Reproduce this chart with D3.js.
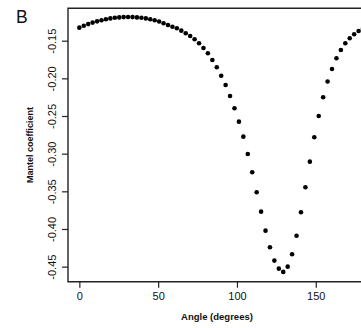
<!DOCTYPE html>
<html>
<head>
<meta charset="utf-8">
<script src="https://cdn.jsdelivr.net/npm/d3@7"></script>
<style>
  html, body { margin: 0; padding: 0; background: #fff; }
  svg { display: block; }
</style>
</head>
<body>
<div id="chart"></div>
<script>
// angles (degrees) sampled over 0..180
const angles = [
  0, 2.8125, 5.625, 8.4375, 11.25, 14.0625, 16.875, 19.6875, 22.5, 25.3125,
  28.125, 30.9375, 33.75, 36.5625, 39.375, 42.1875, 45, 47.8125, 50.625, 53.4375,
  56.25, 59.0625, 61.875, 64.6875, 67.5, 70.3125, 73.125, 75.9375, 78.75, 81.5625,
  84.375, 87.1875, 90, 92.8125, 95.625, 98.4375, 101.25, 104.0625, 106.875, 109.6875,
  112.5, 115.3125, 118.125, 120.9375, 123.75, 126.5625, 129.375, 132.1875, 135, 137.8125,
  140.625, 143.4375, 146.25, 149.0625, 151.875, 154.6875, 157.5, 160.3125, 163.125, 165.9375,
  168.75, 171.5625, 174.375, 177.1875, 180
];

// Mantel coefficient
const mantel = [
  -0.1327, -0.1302, -0.1280, -0.1260, -0.1243, -0.1228, -0.1215, -0.1204, -0.1196, -0.1191,
  -0.1187, -0.1185, -0.1187, -0.1191, -0.1196, -0.1204, -0.1215, -0.1228, -0.1245, -0.1269,
  -0.1292, -0.1314, -0.1335, -0.1367, -0.1402, -0.1438, -0.1481, -0.1535, -0.1597, -0.1667,
  -0.1756, -0.1853, -0.1965, -0.2088, -0.2234, -0.2397, -0.2575, -0.2774, -0.3004, -0.3247,
  -0.3512, -0.3770, -0.4022, -0.4243, -0.4420, -0.4527, -0.4570, -0.4500, -0.4336, -0.4089,
  -0.3778, -0.3446, -0.3106, -0.2782, -0.2500, -0.2251, -0.2042, -0.1876, -0.1734, -0.1623,
  -0.1535, -0.1467, -0.1414, -0.1371, -0.1338
];

const xTicks = [0, 50, 100, 150];
const yTicks = [-0.45, -0.40, -0.35, -0.30, -0.25, -0.20, -0.15];

const width = 361, height = 328;
const plotLeft = 68, plotRight = 372.5, plotTop = 8.3, plotBottom = 281.7;

const svg = d3.select('#chart').append('svg')
  .attr('width', width)
  .attr('height', height);

const x = d3.scaleLinear().domain([-7.2, 186]).range([plotLeft, plotRight]);
const y = d3.scaleLinear().domain([-0.47, -0.107]).range([plotBottom, plotTop]);

const font = '"Liberation Sans", Arial, sans-serif';
const axisColor = '#222';

// frame: left, top, bottom (right side falls off the canvas)
svg.append('path')
  .attr('d', `M${plotRight},${plotTop}H${plotLeft}V${plotBottom}H${plotRight}`)
  .attr('fill', 'none')
  .attr('stroke', axisColor)
  .attr('stroke-width', 1.4);

// x axis
const gx = svg.append('g')
  .attr('transform', `translate(0,${plotBottom})`)
  .call(d3.axisBottom(x).tickValues(xTicks).tickSize(6).tickSizeOuter(0).tickFormat(d => d));
gx.select('.domain').remove();
gx.selectAll('.tick line').attr('stroke', axisColor).attr('stroke-width', 1.2);
gx.selectAll('.tick text')
  .attr('font-family', font)
  .attr('font-size', '11px')
  .attr('fill', '#111')
  .attr('y', 11)
  .attr('dy', '0.71em');

// y axis with rotated labels
const gy = svg.append('g')
  .attr('transform', `translate(${plotLeft},0)`)
  .call(d3.axisLeft(y).tickValues(yTicks).tickSize(6).tickSizeOuter(0).tickFormat(d => d.toFixed(2)));
gy.select('.domain').remove();
gy.selectAll('.tick line').attr('stroke', axisColor).attr('stroke-width', 1.2);
gy.selectAll('.tick text')
  .attr('font-family', font)
  .attr('font-size', '11px')
  .attr('fill', '#111')
  .attr('x', null)
  .attr('dy', null)
  .attr('text-anchor', 'middle')
  .attr('transform', 'translate(-12,0) rotate(-90)');

// points
svg.append('g')
  .selectAll('circle')
  .data(angles.map((a, i) => ({ a, v: mantel[i] })))
  .join('circle')
  .attr('cx', d => x(d.a))
  .attr('cy', d => y(d.v))
  .attr('r', 2.3)
  .attr('fill', '#000');

// axis titles
svg.append('text')
  .attr('x', 217)
  .attr('y', 320)
  .attr('text-anchor', 'middle')
  .attr('font-family', font)
  .attr('font-size', '9.5px')
  .attr('font-weight', 'bold')
  .attr('fill', '#111')
  .text('Angle (degrees)');

svg.append('text')
  .attr('transform', 'translate(33,145) rotate(-90)')
  .attr('text-anchor', 'middle')
  .attr('font-family', font)
  .attr('font-size', '9px')
  .attr('font-weight', 'bold')
  .attr('fill', '#111')
  .text('Mantel coefficient');

// panel letter
svg.append('text')
  .attr('x', 16)
  .attr('y', 22.7)
  .attr('font-family', font)
  .attr('font-size', '17.5px')
  .attr('fill', '#111')
  .text('B');
</script>
</body>
</html>
